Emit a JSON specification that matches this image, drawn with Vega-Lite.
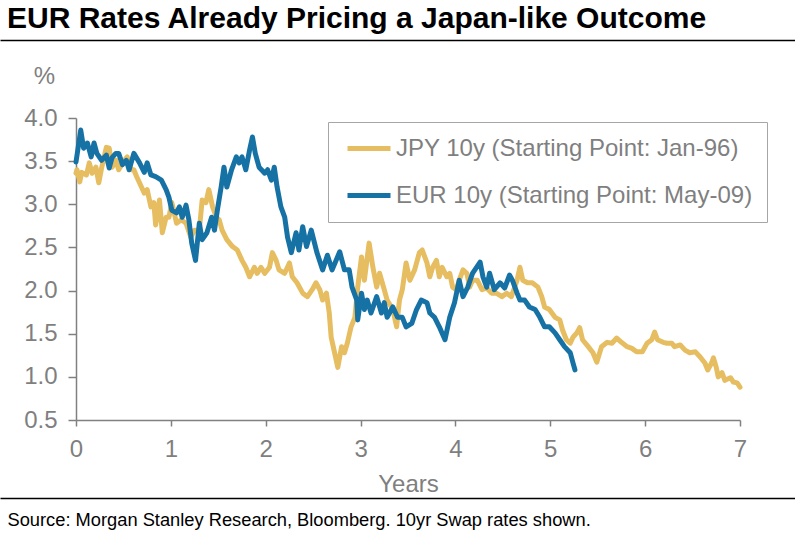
{
  "$schema": "https://vega.github.io/schema/vega-lite/v6.json",
  "width": 664,
  "height": 302,
  "autosize": {"type": "none"},
  "padding": {"left": 76, "top": 118, "right": 55, "bottom": 120},
  "background": "white",
  "title": {
    "text": "EUR Rates Already Pricing a Japan-like Outcome",
    "anchor": "start",
    "frame": "group",
    "dx": -69,
    "offset": 6,
    "fontSize": 30,
    "fontWeight": "bold",
    "font": "Liberation Sans",
    "color": "#000000"
  },
  "config": {
    "view": {"stroke": null},
    "font": "Liberation Sans",
    "axis": {"grid": false}
  },
  "datasets": {
    "rates": [
      {"series": "JPY 10y (Starting Point: Jan-96)", "t": 0, "r": 3.36},
      {"series": "JPY 10y (Starting Point: Jan-96)", "t": 0.01, "r": 3.40},
      {"series": "JPY 10y (Starting Point: Jan-96)", "t": 0.04, "r": 3.26},
      {"series": "JPY 10y (Starting Point: Jan-96)", "t": 0.06, "r": 3.37},
      {"series": "JPY 10y (Starting Point: Jan-96)", "t": 0.11, "r": 3.34},
      {"series": "JPY 10y (Starting Point: Jan-96)", "t": 0.14, "r": 3.48},
      {"series": "JPY 10y (Starting Point: Jan-96)", "t": 0.17, "r": 3.36},
      {"series": "JPY 10y (Starting Point: Jan-96)", "t": 0.21, "r": 3.43},
      {"series": "JPY 10y (Starting Point: Jan-96)", "t": 0.24, "r": 3.25},
      {"series": "JPY 10y (Starting Point: Jan-96)", "t": 0.27, "r": 3.42},
      {"series": "JPY 10y (Starting Point: Jan-96)", "t": 0.32, "r": 3.66},
      {"series": "JPY 10y (Starting Point: Jan-96)", "t": 0.35, "r": 3.65},
      {"series": "JPY 10y (Starting Point: Jan-96)", "t": 0.38, "r": 3.43},
      {"series": "JPY 10y (Starting Point: Jan-96)", "t": 0.42, "r": 3.51},
      {"series": "JPY 10y (Starting Point: Jan-96)", "t": 0.45, "r": 3.40},
      {"series": "JPY 10y (Starting Point: Jan-96)", "t": 0.51, "r": 3.51},
      {"series": "JPY 10y (Starting Point: Jan-96)", "t": 0.54, "r": 3.55},
      {"series": "JPY 10y (Starting Point: Jan-96)", "t": 0.58, "r": 3.40},
      {"series": "JPY 10y (Starting Point: Jan-96)", "t": 0.61, "r": 3.40},
      {"series": "JPY 10y (Starting Point: Jan-96)", "t": 0.64, "r": 3.32},
      {"series": "JPY 10y (Starting Point: Jan-96)", "t": 0.69, "r": 3.20},
      {"series": "JPY 10y (Starting Point: Jan-96)", "t": 0.72, "r": 3.13},
      {"series": "JPY 10y (Starting Point: Jan-96)", "t": 0.75, "r": 3.17},
      {"series": "JPY 10y (Starting Point: Jan-96)", "t": 0.79, "r": 2.97},
      {"series": "JPY 10y (Starting Point: Jan-96)", "t": 0.82, "r": 3.02},
      {"series": "JPY 10y (Starting Point: Jan-96)", "t": 0.84, "r": 2.76},
      {"series": "JPY 10y (Starting Point: Jan-96)", "t": 0.88, "r": 3.05},
      {"series": "JPY 10y (Starting Point: Jan-96)", "t": 0.91, "r": 2.67},
      {"series": "JPY 10y (Starting Point: Jan-96)", "t": 0.95, "r": 2.85},
      {"series": "JPY 10y (Starting Point: Jan-96)", "t": 0.98, "r": 2.85},
      {"series": "JPY 10y (Starting Point: Jan-96)", "t": 1.01, "r": 3.02},
      {"series": "JPY 10y (Starting Point: Jan-96)", "t": 1.06, "r": 2.78},
      {"series": "JPY 10y (Starting Point: Jan-96)", "t": 1.11, "r": 2.82},
      {"series": "JPY 10y (Starting Point: Jan-96)", "t": 1.16, "r": 2.78},
      {"series": "JPY 10y (Starting Point: Jan-96)", "t": 1.21, "r": 2.62},
      {"series": "JPY 10y (Starting Point: Jan-96)", "t": 1.25, "r": 2.70},
      {"series": "JPY 10y (Starting Point: Jan-96)", "t": 1.30, "r": 2.70},
      {"series": "JPY 10y (Starting Point: Jan-96)", "t": 1.33, "r": 3.05},
      {"series": "JPY 10y (Starting Point: Jan-96)", "t": 1.37, "r": 3.02},
      {"series": "JPY 10y (Starting Point: Jan-96)", "t": 1.40, "r": 3.17},
      {"series": "JPY 10y (Starting Point: Jan-96)", "t": 1.44, "r": 2.97},
      {"series": "JPY 10y (Starting Point: Jan-96)", "t": 1.48, "r": 2.85},
      {"series": "JPY 10y (Starting Point: Jan-96)", "t": 1.51, "r": 2.82},
      {"series": "JPY 10y (Starting Point: Jan-96)", "t": 1.54, "r": 2.70},
      {"series": "JPY 10y (Starting Point: Jan-96)", "t": 1.59, "r": 2.59},
      {"series": "JPY 10y (Starting Point: Jan-96)", "t": 1.65, "r": 2.51},
      {"series": "JPY 10y (Starting Point: Jan-96)", "t": 1.70, "r": 2.47},
      {"series": "JPY 10y (Starting Point: Jan-96)", "t": 1.75, "r": 2.35},
      {"series": "JPY 10y (Starting Point: Jan-96)", "t": 1.79, "r": 2.27},
      {"series": "JPY 10y (Starting Point: Jan-96)", "t": 1.83, "r": 2.16},
      {"series": "JPY 10y (Starting Point: Jan-96)", "t": 1.88, "r": 2.27},
      {"series": "JPY 10y (Starting Point: Jan-96)", "t": 1.91, "r": 2.20},
      {"series": "JPY 10y (Starting Point: Jan-96)", "t": 1.95, "r": 2.27},
      {"series": "JPY 10y (Starting Point: Jan-96)", "t": 1.99, "r": 2.20},
      {"series": "JPY 10y (Starting Point: Jan-96)", "t": 2.04, "r": 2.27},
      {"series": "JPY 10y (Starting Point: Jan-96)", "t": 2.07, "r": 2.44},
      {"series": "JPY 10y (Starting Point: Jan-96)", "t": 2.11, "r": 2.35},
      {"series": "JPY 10y (Starting Point: Jan-96)", "t": 2.14, "r": 2.24},
      {"series": "JPY 10y (Starting Point: Jan-96)", "t": 2.20, "r": 2.20},
      {"series": "JPY 10y (Starting Point: Jan-96)", "t": 2.25, "r": 2.32},
      {"series": "JPY 10y (Starting Point: Jan-96)", "t": 2.28, "r": 2.16},
      {"series": "JPY 10y (Starting Point: Jan-96)", "t": 2.33, "r": 2.09},
      {"series": "JPY 10y (Starting Point: Jan-96)", "t": 2.39, "r": 1.97},
      {"series": "JPY 10y (Starting Point: Jan-96)", "t": 2.44, "r": 1.93},
      {"series": "JPY 10y (Starting Point: Jan-96)", "t": 2.49, "r": 2.01},
      {"series": "JPY 10y (Starting Point: Jan-96)", "t": 2.53, "r": 2.09},
      {"series": "JPY 10y (Starting Point: Jan-96)", "t": 2.57, "r": 2.01},
      {"series": "JPY 10y (Starting Point: Jan-96)", "t": 2.60, "r": 1.89},
      {"series": "JPY 10y (Starting Point: Jan-96)", "t": 2.64, "r": 1.97},
      {"series": "JPY 10y (Starting Point: Jan-96)", "t": 2.67, "r": 1.74},
      {"series": "JPY 10y (Starting Point: Jan-96)", "t": 2.69, "r": 1.46},
      {"series": "JPY 10y (Starting Point: Jan-96)", "t": 2.72, "r": 1.31},
      {"series": "JPY 10y (Starting Point: Jan-96)", "t": 2.76, "r": 1.11},
      {"series": "JPY 10y (Starting Point: Jan-96)", "t": 2.80, "r": 1.35},
      {"series": "JPY 10y (Starting Point: Jan-96)", "t": 2.83, "r": 1.28},
      {"series": "JPY 10y (Starting Point: Jan-96)", "t": 2.86, "r": 1.39},
      {"series": "JPY 10y (Starting Point: Jan-96)", "t": 2.90, "r": 1.58},
      {"series": "JPY 10y (Starting Point: Jan-96)", "t": 2.94, "r": 1.69},
      {"series": "JPY 10y (Starting Point: Jan-96)", "t": 2.97, "r": 2.04},
      {"series": "JPY 10y (Starting Point: Jan-96)", "t": 3.01, "r": 2.39},
      {"series": "JPY 10y (Starting Point: Jan-96)", "t": 3.04, "r": 2.12},
      {"series": "JPY 10y (Starting Point: Jan-96)", "t": 3.09, "r": 2.55},
      {"series": "JPY 10y (Starting Point: Jan-96)", "t": 3.13, "r": 2.27},
      {"series": "JPY 10y (Starting Point: Jan-96)", "t": 3.17, "r": 2.04},
      {"series": "JPY 10y (Starting Point: Jan-96)", "t": 3.20, "r": 2.20},
      {"series": "JPY 10y (Starting Point: Jan-96)", "t": 3.25, "r": 2.01},
      {"series": "JPY 10y (Starting Point: Jan-96)", "t": 3.28, "r": 1.89},
      {"series": "JPY 10y (Starting Point: Jan-96)", "t": 3.34, "r": 1.78},
      {"series": "JPY 10y (Starting Point: Jan-96)", "t": 3.38, "r": 1.58},
      {"series": "JPY 10y (Starting Point: Jan-96)", "t": 3.41, "r": 1.89},
      {"series": "JPY 10y (Starting Point: Jan-96)", "t": 3.44, "r": 2.01},
      {"series": "JPY 10y (Starting Point: Jan-96)", "t": 3.48, "r": 2.32},
      {"series": "JPY 10y (Starting Point: Jan-96)", "t": 3.52, "r": 2.12},
      {"series": "JPY 10y (Starting Point: Jan-96)", "t": 3.57, "r": 2.24},
      {"series": "JPY 10y (Starting Point: Jan-96)", "t": 3.62, "r": 2.44},
      {"series": "JPY 10y (Starting Point: Jan-96)", "t": 3.65, "r": 2.47},
      {"series": "JPY 10y (Starting Point: Jan-96)", "t": 3.70, "r": 2.32},
      {"series": "JPY 10y (Starting Point: Jan-96)", "t": 3.73, "r": 2.16},
      {"series": "JPY 10y (Starting Point: Jan-96)", "t": 3.76, "r": 2.27},
      {"series": "JPY 10y (Starting Point: Jan-96)", "t": 3.80, "r": 2.35},
      {"series": "JPY 10y (Starting Point: Jan-96)", "t": 3.83, "r": 2.16},
      {"series": "JPY 10y (Starting Point: Jan-96)", "t": 3.86, "r": 2.27},
      {"series": "JPY 10y (Starting Point: Jan-96)", "t": 3.91, "r": 2.16},
      {"series": "JPY 10y (Starting Point: Jan-96)", "t": 3.94, "r": 2.20},
      {"series": "JPY 10y (Starting Point: Jan-96)", "t": 3.97, "r": 2.04},
      {"series": "JPY 10y (Starting Point: Jan-96)", "t": 4.01, "r": 2.01},
      {"series": "JPY 10y (Starting Point: Jan-96)", "t": 4.04, "r": 2.12},
      {"series": "JPY 10y (Starting Point: Jan-96)", "t": 4.08, "r": 2.24},
      {"series": "JPY 10y (Starting Point: Jan-96)", "t": 4.12, "r": 2.20},
      {"series": "JPY 10y (Starting Point: Jan-96)", "t": 4.15, "r": 2.04},
      {"series": "JPY 10y (Starting Point: Jan-96)", "t": 4.18, "r": 2.12},
      {"series": "JPY 10y (Starting Point: Jan-96)", "t": 4.23, "r": 2.12},
      {"series": "JPY 10y (Starting Point: Jan-96)", "t": 4.28, "r": 2.01},
      {"series": "JPY 10y (Starting Point: Jan-96)", "t": 4.33, "r": 2.03},
      {"series": "JPY 10y (Starting Point: Jan-96)", "t": 4.38, "r": 1.97},
      {"series": "JPY 10y (Starting Point: Jan-96)", "t": 4.43, "r": 1.97},
      {"series": "JPY 10y (Starting Point: Jan-96)", "t": 4.49, "r": 1.93},
      {"series": "JPY 10y (Starting Point: Jan-96)", "t": 4.54, "r": 1.97},
      {"series": "JPY 10y (Starting Point: Jan-96)", "t": 4.59, "r": 1.93},
      {"series": "JPY 10y (Starting Point: Jan-96)", "t": 4.65, "r": 2.12},
      {"series": "JPY 10y (Starting Point: Jan-96)", "t": 4.68, "r": 2.27},
      {"series": "JPY 10y (Starting Point: Jan-96)", "t": 4.71, "r": 2.12},
      {"series": "JPY 10y (Starting Point: Jan-96)", "t": 4.76, "r": 2.09},
      {"series": "JPY 10y (Starting Point: Jan-96)", "t": 4.81, "r": 2.09},
      {"series": "JPY 10y (Starting Point: Jan-96)", "t": 4.87, "r": 2.04},
      {"series": "JPY 10y (Starting Point: Jan-96)", "t": 4.91, "r": 1.93},
      {"series": "JPY 10y (Starting Point: Jan-96)", "t": 4.94, "r": 1.81},
      {"series": "JPY 10y (Starting Point: Jan-96)", "t": 4.99, "r": 1.78},
      {"series": "JPY 10y (Starting Point: Jan-96)", "t": 5.05, "r": 1.69},
      {"series": "JPY 10y (Starting Point: Jan-96)", "t": 5.10, "r": 1.66},
      {"series": "JPY 10y (Starting Point: Jan-96)", "t": 5.13, "r": 1.54},
      {"series": "JPY 10y (Starting Point: Jan-96)", "t": 5.17, "r": 1.43},
      {"series": "JPY 10y (Starting Point: Jan-96)", "t": 5.21, "r": 1.39},
      {"series": "JPY 10y (Starting Point: Jan-96)", "t": 5.24, "r": 1.46},
      {"series": "JPY 10y (Starting Point: Jan-96)", "t": 5.28, "r": 1.51},
      {"series": "JPY 10y (Starting Point: Jan-96)", "t": 5.31, "r": 1.57},
      {"series": "JPY 10y (Starting Point: Jan-96)", "t": 5.34, "r": 1.43},
      {"series": "JPY 10y (Starting Point: Jan-96)", "t": 5.40, "r": 1.35},
      {"series": "JPY 10y (Starting Point: Jan-96)", "t": 5.45, "r": 1.28},
      {"series": "JPY 10y (Starting Point: Jan-96)", "t": 5.49, "r": 1.17},
      {"series": "JPY 10y (Starting Point: Jan-96)", "t": 5.54, "r": 1.35},
      {"series": "JPY 10y (Starting Point: Jan-96)", "t": 5.60, "r": 1.40},
      {"series": "JPY 10y (Starting Point: Jan-96)", "t": 5.65, "r": 1.39},
      {"series": "JPY 10y (Starting Point: Jan-96)", "t": 5.70, "r": 1.45},
      {"series": "JPY 10y (Starting Point: Jan-96)", "t": 5.75, "r": 1.40},
      {"series": "JPY 10y (Starting Point: Jan-96)", "t": 5.81, "r": 1.35},
      {"series": "JPY 10y (Starting Point: Jan-96)", "t": 5.86, "r": 1.33},
      {"series": "JPY 10y (Starting Point: Jan-96)", "t": 5.91, "r": 1.29},
      {"series": "JPY 10y (Starting Point: Jan-96)", "t": 5.97, "r": 1.29},
      {"series": "JPY 10y (Starting Point: Jan-96)", "t": 6.02, "r": 1.39},
      {"series": "JPY 10y (Starting Point: Jan-96)", "t": 6.07, "r": 1.43},
      {"series": "JPY 10y (Starting Point: Jan-96)", "t": 6.10, "r": 1.52},
      {"series": "JPY 10y (Starting Point: Jan-96)", "t": 6.13, "r": 1.43},
      {"series": "JPY 10y (Starting Point: Jan-96)", "t": 6.19, "r": 1.40},
      {"series": "JPY 10y (Starting Point: Jan-96)", "t": 6.23, "r": 1.39},
      {"series": "JPY 10y (Starting Point: Jan-96)", "t": 6.28, "r": 1.39},
      {"series": "JPY 10y (Starting Point: Jan-96)", "t": 6.31, "r": 1.35},
      {"series": "JPY 10y (Starting Point: Jan-96)", "t": 6.37, "r": 1.37},
      {"series": "JPY 10y (Starting Point: Jan-96)", "t": 6.42, "r": 1.31},
      {"series": "JPY 10y (Starting Point: Jan-96)", "t": 6.47, "r": 1.28},
      {"series": "JPY 10y (Starting Point: Jan-96)", "t": 6.53, "r": 1.29},
      {"series": "JPY 10y (Starting Point: Jan-96)", "t": 6.58, "r": 1.23},
      {"series": "JPY 10y (Starting Point: Jan-96)", "t": 6.63, "r": 1.16},
      {"series": "JPY 10y (Starting Point: Jan-96)", "t": 6.66, "r": 1.08},
      {"series": "JPY 10y (Starting Point: Jan-96)", "t": 6.70, "r": 1.16},
      {"series": "JPY 10y (Starting Point: Jan-96)", "t": 6.72, "r": 1.22},
      {"series": "JPY 10y (Starting Point: Jan-96)", "t": 6.75, "r": 1.11},
      {"series": "JPY 10y (Starting Point: Jan-96)", "t": 6.77, "r": 1.00},
      {"series": "JPY 10y (Starting Point: Jan-96)", "t": 6.81, "r": 1.05},
      {"series": "JPY 10y (Starting Point: Jan-96)", "t": 6.84, "r": 0.96},
      {"series": "JPY 10y (Starting Point: Jan-96)", "t": 6.90, "r": 0.99},
      {"series": "JPY 10y (Starting Point: Jan-96)", "t": 6.93, "r": 0.94},
      {"series": "JPY 10y (Starting Point: Jan-96)", "t": 6.97, "r": 0.93},
      {"series": "JPY 10y (Starting Point: Jan-96)", "t": 7.00, "r": 0.88},
      {"series": "EUR 10y (Starting Point: May-09)", "t": 0, "r": 3.49},
      {"series": "EUR 10y (Starting Point: May-09)", "t": 0.05, "r": 3.86},
      {"series": "EUR 10y (Starting Point: May-09)", "t": 0.08, "r": 3.65},
      {"series": "EUR 10y (Starting Point: May-09)", "t": 0.12, "r": 3.71},
      {"series": "EUR 10y (Starting Point: May-09)", "t": 0.16, "r": 3.55},
      {"series": "EUR 10y (Starting Point: May-09)", "t": 0.19, "r": 3.71},
      {"series": "EUR 10y (Starting Point: May-09)", "t": 0.22, "r": 3.59},
      {"series": "EUR 10y (Starting Point: May-09)", "t": 0.27, "r": 3.51},
      {"series": "EUR 10y (Starting Point: May-09)", "t": 0.32, "r": 3.57},
      {"series": "EUR 10y (Starting Point: May-09)", "t": 0.35, "r": 3.42},
      {"series": "EUR 10y (Starting Point: May-09)", "t": 0.38, "r": 3.54},
      {"series": "EUR 10y (Starting Point: May-09)", "t": 0.42, "r": 3.59},
      {"series": "EUR 10y (Starting Point: May-09)", "t": 0.45, "r": 3.59},
      {"series": "EUR 10y (Starting Point: May-09)", "t": 0.49, "r": 3.46},
      {"series": "EUR 10y (Starting Point: May-09)", "t": 0.53, "r": 3.51},
      {"series": "EUR 10y (Starting Point: May-09)", "t": 0.56, "r": 3.40},
      {"series": "EUR 10y (Starting Point: May-09)", "t": 0.61, "r": 3.59},
      {"series": "EUR 10y (Starting Point: May-09)", "t": 0.67, "r": 3.48},
      {"series": "EUR 10y (Starting Point: May-09)", "t": 0.72, "r": 3.37},
      {"series": "EUR 10y (Starting Point: May-09)", "t": 0.75, "r": 3.48},
      {"series": "EUR 10y (Starting Point: May-09)", "t": 0.79, "r": 3.34},
      {"series": "EUR 10y (Starting Point: May-09)", "t": 0.84, "r": 3.32},
      {"series": "EUR 10y (Starting Point: May-09)", "t": 0.90, "r": 3.28},
      {"series": "EUR 10y (Starting Point: May-09)", "t": 0.95, "r": 3.17},
      {"series": "EUR 10y (Starting Point: May-09)", "t": 0.98, "r": 3.08},
      {"series": "EUR 10y (Starting Point: May-09)", "t": 1.01, "r": 2.93},
      {"series": "EUR 10y (Starting Point: May-09)", "t": 1.06, "r": 2.90},
      {"series": "EUR 10y (Starting Point: May-09)", "t": 1.09, "r": 2.97},
      {"series": "EUR 10y (Starting Point: May-09)", "t": 1.12, "r": 2.85},
      {"series": "EUR 10y (Starting Point: May-09)", "t": 1.16, "r": 2.99},
      {"series": "EUR 10y (Starting Point: May-09)", "t": 1.19, "r": 2.82},
      {"series": "EUR 10y (Starting Point: May-09)", "t": 1.22, "r": 2.55},
      {"series": "EUR 10y (Starting Point: May-09)", "t": 1.26, "r": 2.35},
      {"series": "EUR 10y (Starting Point: May-09)", "t": 1.30, "r": 2.78},
      {"series": "EUR 10y (Starting Point: May-09)", "t": 1.33, "r": 2.59},
      {"series": "EUR 10y (Starting Point: May-09)", "t": 1.38, "r": 2.67},
      {"series": "EUR 10y (Starting Point: May-09)", "t": 1.43, "r": 2.85},
      {"series": "EUR 10y (Starting Point: May-09)", "t": 1.46, "r": 2.70},
      {"series": "EUR 10y (Starting Point: May-09)", "t": 1.49, "r": 2.93},
      {"series": "EUR 10y (Starting Point: May-09)", "t": 1.53, "r": 3.20},
      {"series": "EUR 10y (Starting Point: May-09)", "t": 1.56, "r": 3.43},
      {"series": "EUR 10y (Starting Point: May-09)", "t": 1.59, "r": 3.20},
      {"series": "EUR 10y (Starting Point: May-09)", "t": 1.64, "r": 3.40},
      {"series": "EUR 10y (Starting Point: May-09)", "t": 1.69, "r": 3.55},
      {"series": "EUR 10y (Starting Point: May-09)", "t": 1.72, "r": 3.48},
      {"series": "EUR 10y (Starting Point: May-09)", "t": 1.75, "r": 3.55},
      {"series": "EUR 10y (Starting Point: May-09)", "t": 1.79, "r": 3.40},
      {"series": "EUR 10y (Starting Point: May-09)", "t": 1.83, "r": 3.63},
      {"series": "EUR 10y (Starting Point: May-09)", "t": 1.86, "r": 3.78},
      {"series": "EUR 10y (Starting Point: May-09)", "t": 1.89, "r": 3.59},
      {"series": "EUR 10y (Starting Point: May-09)", "t": 1.93, "r": 3.43},
      {"series": "EUR 10y (Starting Point: May-09)", "t": 1.99, "r": 3.36},
      {"series": "EUR 10y (Starting Point: May-09)", "t": 2.02, "r": 3.40},
      {"series": "EUR 10y (Starting Point: May-09)", "t": 2.06, "r": 3.28},
      {"series": "EUR 10y (Starting Point: May-09)", "t": 2.09, "r": 3.43},
      {"series": "EUR 10y (Starting Point: May-09)", "t": 2.12, "r": 3.20},
      {"series": "EUR 10y (Starting Point: May-09)", "t": 2.16, "r": 2.97},
      {"series": "EUR 10y (Starting Point: May-09)", "t": 2.20, "r": 2.85},
      {"series": "EUR 10y (Starting Point: May-09)", "t": 2.23, "r": 2.62},
      {"series": "EUR 10y (Starting Point: May-09)", "t": 2.27, "r": 2.44},
      {"series": "EUR 10y (Starting Point: May-09)", "t": 2.32, "r": 2.67},
      {"series": "EUR 10y (Starting Point: May-09)", "t": 2.35, "r": 2.47},
      {"series": "EUR 10y (Starting Point: May-09)", "t": 2.39, "r": 2.74},
      {"series": "EUR 10y (Starting Point: May-09)", "t": 2.43, "r": 2.51},
      {"series": "EUR 10y (Starting Point: May-09)", "t": 2.48, "r": 2.70},
      {"series": "EUR 10y (Starting Point: May-09)", "t": 2.54, "r": 2.44},
      {"series": "EUR 10y (Starting Point: May-09)", "t": 2.60, "r": 2.24},
      {"series": "EUR 10y (Starting Point: May-09)", "t": 2.65, "r": 2.41},
      {"series": "EUR 10y (Starting Point: May-09)", "t": 2.70, "r": 2.24},
      {"series": "EUR 10y (Starting Point: May-09)", "t": 2.78, "r": 2.45},
      {"series": "EUR 10y (Starting Point: May-09)", "t": 2.83, "r": 2.24},
      {"series": "EUR 10y (Starting Point: May-09)", "t": 2.88, "r": 2.24},
      {"series": "EUR 10y (Starting Point: May-09)", "t": 2.91, "r": 2.04},
      {"series": "EUR 10y (Starting Point: May-09)", "t": 2.96, "r": 1.89},
      {"series": "EUR 10y (Starting Point: May-09)", "t": 2.97, "r": 1.66},
      {"series": "EUR 10y (Starting Point: May-09)", "t": 3.01, "r": 1.97},
      {"series": "EUR 10y (Starting Point: May-09)", "t": 3.04, "r": 1.78},
      {"series": "EUR 10y (Starting Point: May-09)", "t": 3.07, "r": 1.89},
      {"series": "EUR 10y (Starting Point: May-09)", "t": 3.11, "r": 1.74},
      {"series": "EUR 10y (Starting Point: May-09)", "t": 3.17, "r": 1.93},
      {"series": "EUR 10y (Starting Point: May-09)", "t": 3.22, "r": 1.74},
      {"series": "EUR 10y (Starting Point: May-09)", "t": 3.25, "r": 1.86},
      {"series": "EUR 10y (Starting Point: May-09)", "t": 3.28, "r": 1.69},
      {"series": "EUR 10y (Starting Point: May-09)", "t": 3.34, "r": 1.81},
      {"series": "EUR 10y (Starting Point: May-09)", "t": 3.39, "r": 1.69},
      {"series": "EUR 10y (Starting Point: May-09)", "t": 3.44, "r": 1.69},
      {"series": "EUR 10y (Starting Point: May-09)", "t": 3.48, "r": 1.58},
      {"series": "EUR 10y (Starting Point: May-09)", "t": 3.54, "r": 1.62},
      {"series": "EUR 10y (Starting Point: May-09)", "t": 3.59, "r": 1.78},
      {"series": "EUR 10y (Starting Point: May-09)", "t": 3.64, "r": 1.89},
      {"series": "EUR 10y (Starting Point: May-09)", "t": 3.70, "r": 1.86},
      {"series": "EUR 10y (Starting Point: May-09)", "t": 3.73, "r": 1.74},
      {"series": "EUR 10y (Starting Point: May-09)", "t": 3.78, "r": 1.69},
      {"series": "EUR 10y (Starting Point: May-09)", "t": 3.83, "r": 1.58},
      {"series": "EUR 10y (Starting Point: May-09)", "t": 3.89, "r": 1.43},
      {"series": "EUR 10y (Starting Point: May-09)", "t": 3.94, "r": 1.69},
      {"series": "EUR 10y (Starting Point: May-09)", "t": 3.99, "r": 1.86},
      {"series": "EUR 10y (Starting Point: May-09)", "t": 4.04, "r": 2.12},
      {"series": "EUR 10y (Starting Point: May-09)", "t": 4.08, "r": 1.93},
      {"series": "EUR 10y (Starting Point: May-09)", "t": 4.13, "r": 2.04},
      {"series": "EUR 10y (Starting Point: May-09)", "t": 4.18, "r": 2.20},
      {"series": "EUR 10y (Starting Point: May-09)", "t": 4.26, "r": 2.33},
      {"series": "EUR 10y (Starting Point: May-09)", "t": 4.29, "r": 2.16},
      {"series": "EUR 10y (Starting Point: May-09)", "t": 4.33, "r": 2.04},
      {"series": "EUR 10y (Starting Point: May-09)", "t": 4.36, "r": 2.20},
      {"series": "EUR 10y (Starting Point: May-09)", "t": 4.41, "r": 2.01},
      {"series": "EUR 10y (Starting Point: May-09)", "t": 4.47, "r": 2.09},
      {"series": "EUR 10y (Starting Point: May-09)", "t": 4.52, "r": 2.03},
      {"series": "EUR 10y (Starting Point: May-09)", "t": 4.57, "r": 2.18},
      {"series": "EUR 10y (Starting Point: May-09)", "t": 4.60, "r": 2.12},
      {"series": "EUR 10y (Starting Point: May-09)", "t": 4.65, "r": 1.97},
      {"series": "EUR 10y (Starting Point: May-09)", "t": 4.68, "r": 1.89},
      {"series": "EUR 10y (Starting Point: May-09)", "t": 4.73, "r": 1.89},
      {"series": "EUR 10y (Starting Point: May-09)", "t": 4.78, "r": 1.81},
      {"series": "EUR 10y (Starting Point: May-09)", "t": 4.84, "r": 1.78},
      {"series": "EUR 10y (Starting Point: May-09)", "t": 4.89, "r": 1.69},
      {"series": "EUR 10y (Starting Point: May-09)", "t": 4.94, "r": 1.58},
      {"series": "EUR 10y (Starting Point: May-09)", "t": 4.99, "r": 1.58},
      {"series": "EUR 10y (Starting Point: May-09)", "t": 5.05, "r": 1.51},
      {"series": "EUR 10y (Starting Point: May-09)", "t": 5.10, "r": 1.43},
      {"series": "EUR 10y (Starting Point: May-09)", "t": 5.15, "r": 1.35},
      {"series": "EUR 10y (Starting Point: May-09)", "t": 5.21, "r": 1.28},
      {"series": "EUR 10y (Starting Point: May-09)", "t": 5.24, "r": 1.16},
      {"series": "EUR 10y (Starting Point: May-09)", "t": 5.26, "r": 1.08}
    ]
  },
  "data": {"name": "rates"},
  "resolve": {"scale": {"x": "independent"}, "axis": {"x": "independent"}},
  "layer": [
    {
      "mark": {"type": "line", "strokeWidth": 5, "strokeJoin": "round", "strokeCap": "round"},
      "encoding": {
        "x": {
          "field": "t",
          "type": "quantitative",
          "scale": {"domain": [0, 7], "nice": false, "zero": false},
          "axis": {
            "values": [0, 1, 2, 3, 4, 5, 6, 7],
            "format": "d",
            "labelFlush": false,
            "domainColor": "#808080",
            "domainWidth": 1.5,
            "tickColor": "#808080",
            "tickWidth": 1.5,
            "tickSize": 6,
            "labelColor": "#7f7f7f",
            "labelFontSize": 24,
            "labelFont": "Liberation Sans",
            "labelPadding": 11,
            "title": "Years",
            "titleColor": "#7f7f7f",
            "titleFontSize": 24,
            "titleFontWeight": "normal",
            "titleFont": "Liberation Sans",
            "titlePadding": 11
          }
        },
        "y": {
          "field": "r",
          "type": "quantitative",
          "scale": {"domain": [0.5, 4], "nice": false, "zero": false},
          "axis": {
            "values": [0.5, 1, 1.5, 2, 2.5, 3, 3.5, 4],
            "format": ".1f",
            "labelFlush": false,
            "domainColor": "#808080",
            "domainWidth": 1.5,
            "tickColor": "#808080",
            "tickWidth": 1.5,
            "tickSize": 8,
            "labelColor": "#7f7f7f",
            "labelFontSize": 24,
            "labelFont": "Liberation Sans",
            "labelPadding": 11,
            "title": "%",
            "titleAngle": 0,
            "titleX": -32,
            "titleY": -42,
            "titleAlign": "center",
            "titleBaseline": "middle",
            "titleColor": "#7f7f7f",
            "titleFontSize": 24,
            "titleFontWeight": "normal",
            "titleFont": "Liberation Sans"
          }
        },
        "color": {
          "field": "series",
          "type": "nominal",
          "sort": null,
          "scale": {
            "domain": ["JPY 10y (Starting Point: Jan-96)", "EUR 10y (Starting Point: May-09)"],
            "range": ["#E6BD60", "#1672A5"]
          },
          "legend": {
            "orient": "none",
            "legendX": 252,
            "legendY": 4,
            "title": null,
            "direction": "vertical",
            "symbolType": "M-0.7,0H3.6",
            "symbolSize": 400,
            "symbolStrokeWidth": 5,
            "labelFontSize": 24,
            "labelColor": "#7f7f7f",
            "labelFont": "Liberation Sans",
            "labelOffset": 29,
            "labelLimit": 0,
            "padding": 14,
            "rowPadding": 22,
            "strokeColor": "#a6a6a6",
            "fillColor": "white"
          }
        }
      }
    },
    {
      "mark": {"type": "rule", "opacity": 0},
      "encoding": {
        "x": {
          "field": "t",
          "type": "quantitative",
          "scale": {"range": [-76, 719]},
          "axis": {
            "orient": "top",
            "offset": 78,
            "labels": false,
            "ticks": false,
            "title": null,
            "domainColor": "#000000",
            "domainWidth": 1.5
          }
        }
      }
    },
    {
      "mark": {"type": "rule", "opacity": 0},
      "encoding": {
        "x": {
          "field": "t",
          "type": "quantitative",
          "scale": {"range": [-76, 719]},
          "axis": {
            "orient": "bottom",
            "offset": 78,
            "labels": false,
            "ticks": false,
            "domainColor": "#000000",
            "domainWidth": 1.5,
            "title": "Source: Morgan Stanley Research, Bloomberg. 10yr Swap rates shown.",
            "titleX": -69,
            "titleY": 27,
            "titleAlign": "left",
            "titleAnchor": "start",
            "titleBaseline": "alphabetic",
            "titleColor": "#000000",
            "titleFontSize": 18.3,
            "titleFontWeight": "normal",
            "titleFont": "Liberation Sans"
          }
        }
      }
    }
  ]
}
